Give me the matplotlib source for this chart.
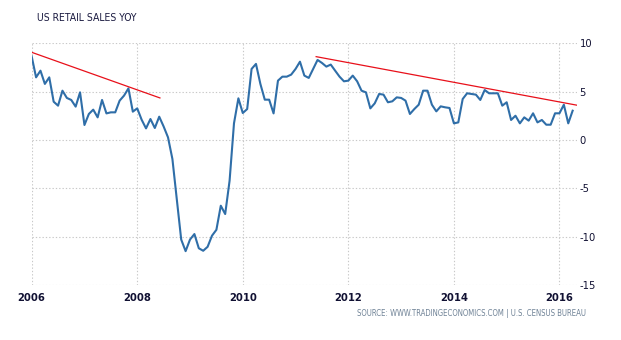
import matplotlib
matplotlib.use("Agg")
import matplotlib.pyplot as plt
import numpy as np

# monthly YoY change, Jan 2006 .. Apr 2016
start_year = 2006
retail_yoy = [
    8.65, 6.48, 7.17, 5.80, 6.48, 3.96, 3.55, 5.10, 4.35, 4.14, 3.45, 4.93,
    1.55, 2.69, 3.14, 2.34, 4.14, 2.75, 2.86, 2.86, 4.07, 4.59, 5.34, 2.93,
    3.27, 2.10, 1.20, 2.17, 1.24, 2.41, 1.40, 0.27, -1.97, -6.15, -10.30, -11.50,
    -10.30, -9.73, -11.20, -11.46, -11.05, -9.90, -9.29, -6.80, -7.66, -4.21, 1.72, 4.31,
    2.79, 3.20, 7.35, 7.87, 5.80, 4.17, 4.17, 2.75, 6.14, 6.55, 6.55, 6.76,
    7.35, 8.10, 6.66, 6.42, 7.35, 8.28, 7.97, 7.59, 7.80, 7.17, 6.55, 6.07,
    6.14, 6.66, 6.07, 5.10, 4.93, 3.27, 3.79, 4.76, 4.69, 3.90, 4.00, 4.41,
    4.35, 4.07, 2.69, 3.20, 3.65, 5.10, 5.10, 3.65, 2.96, 3.48, 3.38, 3.31,
    1.72, 1.82, 4.24, 4.83, 4.76, 4.69, 4.14, 5.17, 4.83, 4.83, 4.83, 3.55,
    3.90, 2.07, 2.51, 1.72, 2.34, 2.00, 2.76, 1.82, 2.07, 1.58, 1.58, 2.76,
    2.76, 3.65, 1.72, 3.03,
]

# resistance lines drawn over the series
trend1_x = [2006.0, 2008.43]
trend1_y = [9.07, 4.35]
trend2_x = [2011.39, 2016.33]
trend2_y = [8.62, 3.60]

year_ticks = [2006, 2008, 2010, 2012, 2014, 2016]
value_ticks = [10, 5, 0, -5, -10, -15]

months = start_year + np.arange(len(retail_yoy)) / 12.0

plt.rcParams['font.family'] = ['DejaVu Sans']
plt.rcParams['font.stretch'] = 'condensed'

fig = plt.figure(figsize=(6.21, 3.40), dpi=100)
ax = fig.add_axes([0.051, 0.1618, 0.8776, 0.7108])

ax.plot(months, retail_yoy, color='#2f6ea8', linewidth=1.5, solid_joinstyle='round', zorder=3)
ax.plot(trend1_x, trend1_y, color='#e8101a', linewidth=0.9, zorder=4)
ax.plot(trend2_x, trend2_y, color='#e8101a', linewidth=0.9, zorder=4)

ax.set_xlim(2006.0, 2016.326)
ax.set_ylim(-15, 10)
ax.set_xticks(year_ticks)
ax.set_xticklabels([str(y) for y in year_ticks])
ax.set_yticks(value_ticks)
ax.set_yticklabels([str(v) for v in value_ticks])
ax.yaxis.tick_right()

ax.grid(True, color='#c8c8c8', linestyle=(0, (1.2, 1.8)), linewidth=0.8)
for s in ax.spines.values():
    s.set_visible(False)
ax.tick_params(axis='x', length=0, pad=6, labelsize=8, labelcolor='#111133')
ax.tick_params(axis='y', length=0, pad=2, labelsize=8, labelcolor='#111133')
for lbl in ax.get_xticklabels():
    lbl.set_fontweight('bold')

fig.text(0.0596, 0.947, 'US RETAIL SALES YOY', fontsize=7.5, color='#1a1a40',
         ha='left', va='center')
fig.text(0.9436, 0.079, 'SOURCE: WWW.TRADINGECONOMICS.COM | U.S. CENSUS BUREAU',
         fontsize=5.6, color='#6f8296', ha='right', va='center')

fig.savefig('out.png', dpi=100)
